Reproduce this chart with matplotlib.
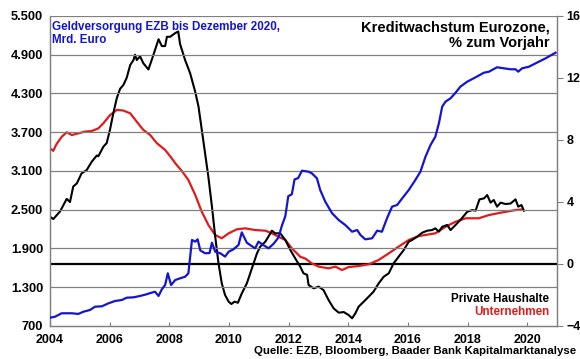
import matplotlib
matplotlib.use('Agg')
import matplotlib.pyplot as plt
from matplotlib.ticker import FuncFormatter

plt.rcParams['font.family'] = ['Liberation Sans', 'DejaVu Sans']
plt.rcParams['font.weight'] = 'bold'

# EZB Geldversorgung, Mrd. Euro (linke Achse)
ezb_x = [2004.00, 2004.17, 2004.39, 2004.73, 2004.95, 2005.12, 2005.34, 2005.51, 2005.74, 2005.96,
         2006.18, 2006.41, 2006.57, 2006.80, 2007.02, 2007.19, 2007.41, 2007.52, 2007.64, 2007.75,
         2007.86, 2007.95, 2008.06, 2008.20, 2008.36, 2008.53, 2008.64, 2008.76, 2008.87, 2008.95,
         2009.04, 2009.20, 2009.35, 2009.43, 2009.54, 2009.71, 2009.87, 2009.99, 2010.15, 2010.32,
         2010.43, 2010.60, 2010.77, 2010.88, 2010.99, 2011.16, 2011.33, 2011.50, 2011.66, 2011.78,
         2011.89, 2011.99, 2012.11, 2012.20, 2012.32, 2012.45, 2012.67, 2012.78, 2012.95, 2013.06,
         2013.23, 2013.46, 2013.68, 2013.90, 2014.13, 2014.30, 2014.41, 2014.57, 2014.80, 2014.97,
         2015.13, 2015.30, 2015.47, 2015.64, 2015.81, 2016.03, 2016.25, 2016.42, 2016.59, 2016.76,
         2016.92, 2017.04, 2017.15, 2017.26, 2017.43, 2017.60, 2017.76, 2017.99, 2018.27, 2018.55,
         2018.72, 2018.99, 2019.22, 2019.44, 2019.61, 2019.70, 2019.83, 2020.06, 2020.28, 2020.62,
         2020.95]
ezb_y = [829, 844, 897, 897, 887, 921, 948, 999, 1005, 1051,
         1087, 1103, 1138, 1144, 1165, 1185, 1216, 1231, 1165, 1268,
         1335, 1516, 1335, 1412, 1438, 1463, 1516, 2032, 2006, 2042,
         1870, 1826, 1830, 1990, 1850, 1826, 1775, 1850, 1887, 1954,
         2150, 1990, 1935, 1903, 2006, 1950, 1903, 1975, 2070, 2260,
         2400, 2710, 2740, 2970, 2990, 3105, 3089, 3064, 2987, 2806,
         2625, 2445, 2341, 2264, 2160, 2186, 2109, 2042, 2058, 2176,
         2160, 2368, 2548, 2574, 2677, 2806, 2961, 3089, 3321, 3503,
         3631, 3838, 4096, 4173, 4226, 4313, 4406, 4483, 4551, 4622,
         4638, 4706, 4690, 4675, 4675, 4638, 4690, 4715, 4767, 4845,
         4932]

# Private Haushalte, % zum Vorjahr (rechte Achse)
hh_x = [2004.00, 2004.11, 2004.34, 2004.56, 2004.67, 2004.78, 2004.90, 2005.06, 2005.23, 2005.40,
        2005.57, 2005.62, 2005.79, 2005.90, 2006.01, 2006.12, 2006.24, 2006.35, 2006.46, 2006.57,
        2006.69, 2006.80, 2006.85, 2006.91, 2007.02, 2007.13, 2007.30, 2007.41, 2007.52, 2007.64,
        2007.75, 2007.86, 2007.92, 2008.03, 2008.20, 2008.30, 2008.36, 2008.53, 2008.70, 2008.87,
        2008.98, 2009.09, 2009.20, 2009.31, 2009.43, 2009.54, 2009.65, 2009.76, 2009.87, 2009.99,
        2010.08, 2010.19, 2010.30, 2010.43, 2010.60, 2010.77, 2010.94, 2011.05, 2011.22, 2011.39,
        2011.44, 2011.55, 2011.72, 2011.89, 2012.06, 2012.22, 2012.39, 2012.50, 2012.62, 2012.67,
        2012.84, 2013.01, 2013.17, 2013.34, 2013.51, 2013.68, 2013.85, 2014.01, 2014.13, 2014.24,
        2014.35, 2014.52, 2014.69, 2014.85, 2015.02, 2015.19, 2015.36, 2015.52, 2015.69, 2015.86,
        2016.03, 2016.14, 2016.31, 2016.48, 2016.65, 2016.81, 2016.92, 2017.04, 2017.15, 2017.32,
        2017.43, 2017.60, 2017.76, 2017.99, 2018.16, 2018.27, 2018.40, 2018.55, 2018.66, 2018.77,
        2018.88, 2018.99, 2019.11, 2019.27, 2019.44, 2019.61, 2019.70, 2019.81, 2019.89]
hh_y = [3.05, 2.9, 3.4, 4.2, 4.0, 5.0, 5.2, 5.85, 6.06, 6.6,
        7.0, 6.95, 7.57, 7.8, 8.65, 9.7, 10.7, 11.3, 11.55, 12.0,
        12.84, 13.16, 13.5, 13.16, 13.4, 12.95, 12.55, 13.16, 13.8, 14.5,
        14.06, 14.06, 14.66, 14.66, 14.9, 15.0, 14.2, 13.16, 12.3, 11.1,
        10.15, 8.65, 7.14, 5.63, 3.7, 1.76, 0.04, -1.25, -2.0, -2.43,
        -2.58, -2.43, -2.5, -1.9, -1.25, -0.28, 0.69, 1.12, 1.44, 1.98,
        2.15, 1.98, 1.98, 1.55, 0.9, 0.37, -0.17, -0.6, -0.7, -1.35,
        -1.57, -1.46, -1.68, -2.32, -2.86, -3.14, -3.1, -3.29, -3.5, -3.18,
        -2.75, -2.43, -2.1, -1.78, -1.25, -0.82, -0.6, 0.04, 0.47, 0.9,
        1.44, 1.55, 1.76, 2.02, 2.15, 2.19, 2.3, 2.09, 2.4, 2.52,
        2.19, 2.52, 2.84, 3.37, 3.48, 3.44, 4.17, 4.23, 4.45, 3.96,
        4.13, 3.7, 3.96, 3.87, 3.9, 4.17, 3.7, 3.8, 3.44]

# Unternehmen, % zum Vorjahr (rechte Achse)
firm_x = [2004.00, 2004.11, 2004.22, 2004.39, 2004.56, 2004.73, 2004.95, 2005.17, 2005.40, 2005.62,
          2005.79, 2006.01, 2006.24, 2006.46, 2006.69, 2006.91, 2007.13, 2007.36, 2007.58, 2007.86,
          2008.09, 2008.20, 2008.42, 2008.64, 2008.87, 2009.09, 2009.31, 2009.54, 2009.76, 2009.99,
          2010.27, 2010.55, 2010.88, 2011.22, 2011.44, 2011.66, 2011.89, 2012.11, 2012.39, 2012.56,
          2012.78, 2013.01, 2013.34, 2013.57, 2013.79, 2014.01, 2014.35, 2014.69, 2015.02, 2015.36,
          2015.69, 2016.03, 2016.36, 2016.70, 2016.92, 2017.26, 2017.60, 2017.94, 2018.38, 2018.72,
          2019.11, 2019.61, 2019.85]
firm_y = [7.46, 7.3, 7.74, 8.2, 8.5, 8.32, 8.43, 8.54, 8.58, 8.75,
          9.08, 9.6, 9.94, 9.9, 9.72, 9.18, 8.65, 8.32, 7.8, 7.36,
          6.8, 6.5, 6.0, 5.42, 4.45, 3.37, 2.52, 1.87, 1.66, 1.98,
          2.24, 2.3, 2.19, 2.15, 1.98, 1.76, 1.55, 1.01, 0.47, 0.35,
          0.04, -0.17, -0.28, -0.17, -0.39, -0.2, -0.13, -0.02, 0.26, 0.69,
          1.12, 1.55, 1.8, 1.91, 1.98, 2.4, 2.73, 2.95, 2.95, 3.16,
          3.31, 3.48, 3.53]

left_ticks = list(range(700, 5501, 600))
right_ticks = [-4, 0, 4, 8, 12, 16]
year_ticks = list(range(2004, 2021, 2))

fig = plt.figure(figsize=(5.8, 3.59), dpi=100)
ax = fig.add_axes([50 / 580, 1 - 326 / 359, 507 / 580, 310 / 359])
ax2 = ax.twinx()

grid_col = '#808080'
for v in left_ticks[1:]:
    ax.axhline(v, color=grid_col, lw=0.9, zorder=0)

ax.plot(ezb_x, ezb_y, color='#1515CC', lw=1.6, zorder=3)
ax2.axhline(0, color='black', lw=1.6, zorder=1)
ax2.plot(firm_x, firm_y, color='#E01B1B', lw=1.6, zorder=2)
ax2.plot(hh_x, hh_y, color='black', lw=1.5, zorder=3)

ax.set_xlim(2004, 2021)
ax.set_ylim(700, 5500)
ax2.set_ylim(-4, 16)
ax.set_xticks(year_ticks)
ax.set_yticks(left_ticks)
ax2.set_yticks(right_ticks)
ax.yaxis.set_major_formatter(FuncFormatter(lambda v, p: f'{int(v):,}'.replace(',', '.')))

for a in (ax, ax2):
    a.spines['top'].set_visible(False)
    for s in ('left', 'right', 'bottom'):
        a.spines[s].set_color(grid_col)
        a.spines[s].set_linewidth(0.9)
ax.tick_params(axis='y', length=0, labelsize=9.3, pad=5)
ax.tick_params(axis='x', direction='in', length=3, color=grid_col, labelsize=9, pad=6)
ax2.tick_params(axis='y', direction='out', length=4, color=grid_col, labelsize=9, pad=3)
ax2.set_zorder(ax.get_zorder() - 1)
ax.patch.set_visible(False)

ax.text(0.004, 0.985, 'Geldversorgung EZB bis Dezember 2020,\nMrd. Euro', transform=ax.transAxes,
        color='#1515CC', fontsize=8.4, ha='left', va='top', linespacing=1.1)
ax.text(0.985, 0.985, 'Kreditwachstum Eurozone,\n% zum Vorjahr', transform=ax.transAxes,
        color='black', fontsize=10.5, ha='right', va='top', linespacing=1.15, zorder=5)
ax.text(0.985, 0.088, 'Private Haushalte', transform=ax.transAxes, color='black',
        fontsize=8.4, ha='right', va='center')
ax.text(0.985, 0.045, 'Unternehmen', transform=ax.transAxes, color='#E01B1B',
        fontsize=8.4, ha='right', va='center')
fig.text(0.993, 0.022, 'Quelle: EZB, Bloomberg, Baader Bank Kapitalmarktanalyse', color='black',
         fontsize=8.2, ha='right', va='center')

fig.savefig('out.png', dpi=100)
